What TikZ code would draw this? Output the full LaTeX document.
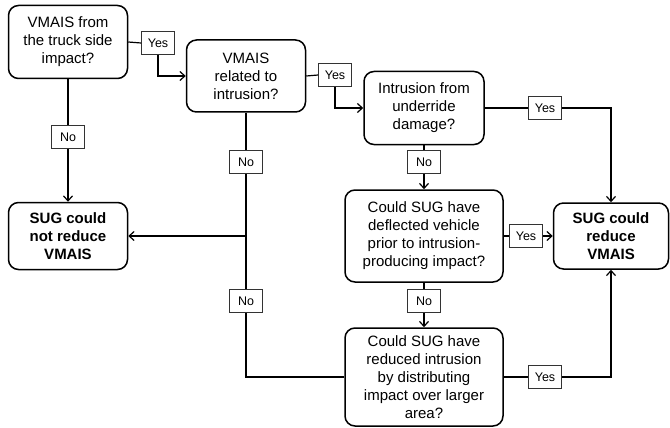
\documentclass[tikz,border=0pt]{standalone}
\usepackage{fontspec}
\setmainfont{Liberation Sans}
\usetikzlibrary{arrows.meta,positioning}

\begin{document}
\begin{tikzpicture}[x=1pt,y=-1pt,>={Straight Barb[length=5pt,width=9pt]},
        line width=1.2pt,
        box/.style={draw,line width=1.5pt,rounded corners=10pt,align=center,inner sep=2pt,
          font=\fontsize{15}{18}\selectfont},
        endbox/.style={box,font=\fontsize{15}{18}\selectfont\bfseries},
        ans/.style={draw=black!80,line width=0.8pt,fill=white,minimum width=33pt,
          minimum height=23pt,inner sep=1pt,font=\fontsize{12.5}{14}\selectfont}]

  \useasboundingbox (0,0) rectangle (670,428);

  % questions
  \node[box,minimum width=119pt,minimum height=73pt] (truck) at (68,42) {VMAIS from\\the truck side\\impact?};
  \node[box,minimum width=119pt,minimum height=72pt] (intr) at (246,76) {VMAIS\\related to\\intrusion?};
  \node[box,minimum width=120pt,minimum height=73pt] (under) at (424,108) {Intrusion from\\underride\\damage?};
  \node[box,minimum width=158pt,minimum height=92pt] (defl) at (424,236) {Could SUG have\\deflected vehicle\\prior to intrusion-\\producing impact?};
  \node[box,minimum width=158pt,minimum height=98pt] (distr) at (424,377) {Could SUG have\\reduced intrusion\\by distributing\\impact over larger\\area?};

  % outcomes
  \node[endbox,minimum width=119pt,minimum height=67pt] (nored) at (68,236) {SUG could\\not reduce\\VMAIS};
  \node[endbox,minimum width=115pt,minimum height=66pt] (red) at (611,236) {SUG could\\reduce\\VMAIS};

  % answers
  \node[ans] (y1) at (158,43) {Yes};
  \node[ans] (y2) at (335,75) {Yes};
  \node[ans] (y3) at (545,108) {Yes};
  \node[ans] (y4) at (526,236) {Yes};
  \node[ans] (y5) at (545,377) {Yes};
  \node[ans] (n1) at (68,137) {No};
  \node[ans] (n2) at (246,162) {No};
  \node[ans] (n3) at (246,301) {No};
  \node[ans] (n4) at (424,162) {No};
  \node[ans] (n5) at (424,301) {No};
  \coordinate (j) at (246,236);

  \draw (truck.east) -- (y1.west);
  \draw[->] (y1.south) |- (intr.west);
  \draw (truck.south) -- (n1.north);
  \draw[->] (n1.south) -- (nored.north);

  \draw (intr.east) -- (y2.west);
  \draw[->] (y2.south) |- (under.west);
  \draw (intr.south) -- (n2.north);
  \draw[->] (n2.south) |- (nored.east);

  \draw (under.east) -- (y3.west);
  \draw[->] (y3.east) -| (red.north);
  \draw (under.south) -- (n4.north);
  \draw[->] (n4.south) -- (defl.north);

  \draw (defl.east) -- (y4.west);
  \draw[->] (y4.east) -- (red.west);
  \draw (defl.south) -- (n5.north);
  \draw[->] (n5.south) -- (distr.north);

  \draw (distr.east) -- (y5.west);
  \draw[->] (y5.east) -| (red.south);
  \draw (distr.west) -| (n3.south);
  \draw (n3.north) -- (j);
\end{tikzpicture}
\end{document}
